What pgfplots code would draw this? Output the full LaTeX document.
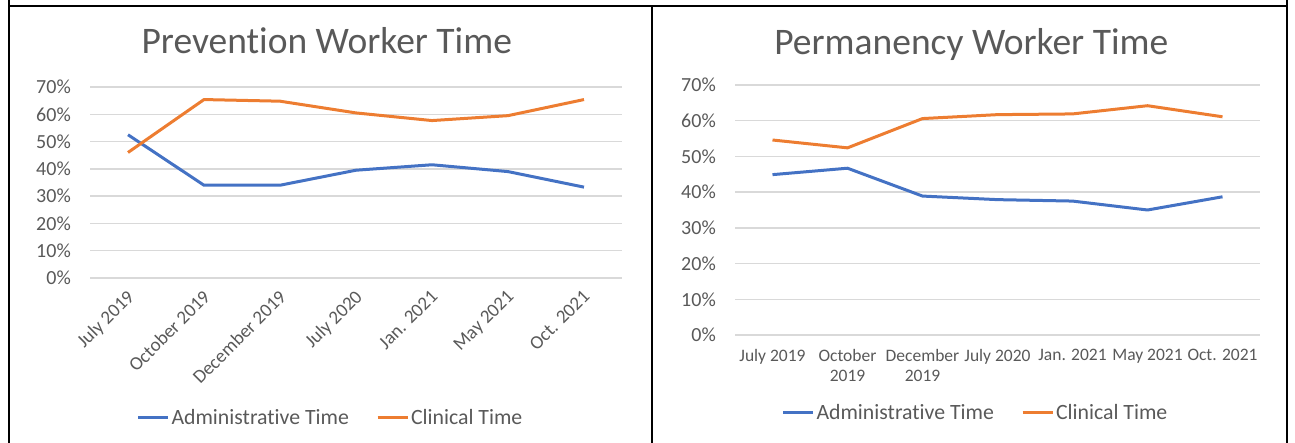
\documentclass[border=0pt]{standalone}
\usepackage{pgfplots}
\pgfplotsset{compat=1.18}
\usepackage{fontspec}
\setmainfont{Carlito}[Ligatures=NoCommon]
\definecolor{xlblue}{HTML}{4472C4}
\definecolor{xlorange}{HTML}{ED7D31}
\definecolor{xltext}{HTML}{595959}
\definecolor{xlgrid}{HTML}{D9D9D9}
\pgfplotsset{
  xlchart/.style={
    scale only axis,
    ymin=0, ymax=70,
    ytick={0,10,...,70},
    yticklabels={0\%,10\%,20\%,30\%,40\%,50\%,60\%,70\%},
    xmin=-0.5, xmax=6.5,
    xtick={0,...,6},
    axis line style={draw=none},
    tick style={draw=none},
    ymajorgrids,
    grid style={xlgrid, line width=1.4pt},
    yticklabel style={font=\fontsize{20}{22}\selectfont, text=xltext, inner sep=0pt, xshift=-19pt},
    title style={font=\fontsize{37.5}{42}\selectfont, text=xltext, anchor=center},
    legend columns=2,
    legend image code/.code={\draw[#1] (0pt,0pt) -- (30pt,0pt);},
    legend style={draw=none, fill=none, anchor=center, font=\fontsize{21.8}{24}\selectfont, text=xltext,
      /tikz/every even column/.append style={column sep=25pt}},
    every axis plot/.append style={line width=3pt, line join=round},
  }
}
\begin{document}
\begin{tikzpicture}[x=1pt,y=1pt]
\path[use as bounding box] (0,0) rectangle (1295,443);
\draw[line width=2pt] (8.5,443) -- (8.5,437) -- (1287,437) -- (1287,443);
\draw[line width=2pt] (652,437) -- (652,0);
\draw[line width=2pt] (8.5,437) -- (8.5,0);
\draw[line width=2pt] (1287,437) -- (1287,0);

% Prevention
\begin{axis}[xlchart,
  at={(90pt,165pt)}, anchor=south west,
  width=532pt, height=191pt,
  title={Prevention Worker Time},
  title style={at={(0.445,1)}, yshift=40pt},
  xticklabels={July 2019,October 2019,December 2019,July 2020,Jan. 2021,May 2021,Oct. 2021},
  xticklabel style={font=\fontsize{19}{21}\selectfont, text=xltext, rotate=45, anchor=north east, inner sep=0pt, xshift=-9pt, yshift=-6pt},
  legend style={at={(0.452,-0.733)}},
]
\addplot[xlblue] coordinates {(0,52.5) (1,34) (2,34) (3,39.5) (4,41.5) (5,39) (6,33.3)};
\addlegendentry{Administrative Time}
\addplot[xlorange] coordinates {(0,46) (1,65.4) (2,64.8) (3,60.5) (4,57.7) (5,59.5) (6,65.4)};
\addlegendentry{Clinical Time}
\end{axis}

% Permanency
\begin{axis}[xlchart,
  at={(735pt,108pt)}, anchor=south west,
  width=525pt, height=250pt,
  title={Permanency Worker Time},
  title style={at={(0.45,1)}, yshift=34pt},
  xticklabels={July 2019,October\\2019,December\\2019,July 2020,Jan. 2021,May 2021,Oct. 2021},
  xticklabel style={font=\fontsize{17.5}{20}\selectfont, text=xltext, align=center, anchor=north, inner sep=0pt, yshift=-14pt},
  legend style={at={(0.458,-0.312)}},
]
\addplot[xlblue] coordinates {(0,44.9) (1,46.7) (2,38.9) (3,37.9) (4,37.5) (5,35) (6,38.7)};
\addlegendentry{Administrative Time}
\addplot[xlorange] coordinates {(0,54.6) (1,52.4) (2,60.6) (3,61.7) (4,61.9) (5,64.2) (6,61.1)};
\addlegendentry{Clinical Time}
\end{axis}
\end{tikzpicture}
\end{document}
